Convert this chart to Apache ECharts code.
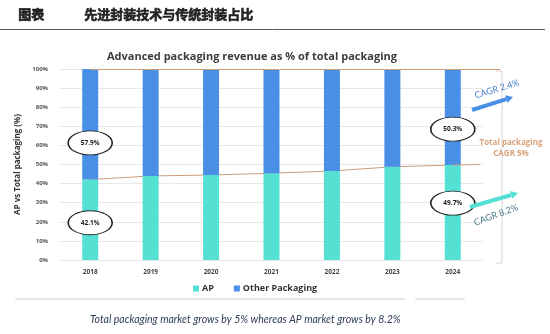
<!DOCTYPE html>
<html>
<head>
<meta charset="utf-8">
<script src="https://cdn.jsdelivr.net/npm/echarts@6/dist/echarts.min.js"></script>
<style>
  html, body { margin: 0; padding: 0; background: #fff; }
  #chart { width: 550px; height: 334px; }
</style>
</head>
<body>
<div id="chart"></div>
<script>
// Years on the x axis
const years = ['2018', '2019', '2020', '2021', '2022', '2023', '2024'];
// Advanced packaging share of total packaging (%)
const apShare = [42.1, 44.0, 44.5, 45.4, 46.6, 48.8, 49.7];
// Remaining (other) packaging share (%)
const otherShare = [57.9, 56.0, 55.5, 54.6, 53.4, 51.2, 50.3];
// Y axis tick values
const yTicks = [0, 10, 20, 30, 40, 50, 60, 70, 80, 90, 100];

const AP_COLOR = '#55e0d4';
const OTHER_COLOR = '#4a8fe6';
const TAN = '#cf9d78';
const FONT = 'Lato';
const BOLD_FONT = 'Open Sans';

function ellipseLabel(year, yPos, text) {
  return {
    coord: [year, yPos],
    value: text,
    symbol: 'circle',
    symbolSize: [44, 24],
    itemStyle: { color: '#fff', borderColor: '#222', borderWidth: 1.2 },
    label: { show: true, formatter: text, color: '#222', fontSize: 6.5, fontWeight: 'bold', fontFamily: BOLD_FONT }
  };
}

const chart = echarts.init(document.getElementById('chart'));

// Thick arrow made of a stroke and a triangular head
function arrow(x1, y1, x2, y2, color) {
  const ang = Math.atan2(y2 - y1, x2 - x1);
  const hl = 7, hw = 4;
  const bx = x2 - hl * Math.cos(ang), by = y2 - hl * Math.sin(ang);
  const px = -Math.sin(ang), py = Math.cos(ang);
  return [
    { type: 'line', shape: { x1: x1, y1: y1, x2: bx, y2: by }, style: { stroke: color, lineWidth: 4 }, z: 10 },
    { type: 'polygon', shape: { points: [[x2, y2], [bx + px * hw, by + py * hw], [bx - px * hw, by - py * hw]] }, style: { fill: color }, z: 10 }
  ];
}

chart.setOption({
  animation: false,
  textStyle: { fontFamily: FONT },
  title: {
    text: 'Advanced packaging revenue as % of total packaging',
    left: 102,
    top: 46,
    textStyle: { fontSize: 11, fontWeight: 'bold', color: '#3c3c3c', fontFamily: BOLD_FONT }
  },
  legend: {
    data: ['AP', 'Other Packaging'],
    left: 188,
    top: 279,
    itemWidth: 6,
    itemHeight: 6,
    itemGap: 20,
    icon: 'rect',
    textStyle: { fontSize: 9, fontWeight: 'bold', color: '#333', fontFamily: BOLD_FONT, padding: [0, 0, 0, -2] }
  },
  grid: { left: 60, right: 67, top: 69, bottom: 74 },
  xAxis: {
    type: 'category',
    data: years,
    axisLine: { show: false },
    axisTick: { show: false },
    axisLabel: { fontSize: 6.5, fontWeight: 'bold', color: '#444', fontFamily: BOLD_FONT, margin: 9 }
  },
  yAxis: {
    type: 'value',
    min: 0,
    max: 100,
    interval: 10,
    name: 'AP vs Total packaging (%)',
    nameLocation: 'middle',
    nameGap: 32,
    nameTextStyle: { fontSize: 8, fontWeight: 'bold', color: '#333', fontFamily: BOLD_FONT },
    axisLabel: {
      fontSize: 6, fontWeight: 'bold', color: '#555', fontFamily: BOLD_FONT, margin: 12,
      formatter: v => (yTicks.indexOf(v) >= 0 ? v + '%' : '')
    },
    splitLine: { lineStyle: { color: '#e8e8e8', width: 1 } },
    axisLine: { show: false },
    axisTick: { show: false }
  },
  series: [
    {
      name: 'Total packaging',
      type: 'line',
      data: apShare,
      symbol: 'none',
      lineStyle: { color: TAN, width: 1 },
      z: 1,
      markLine: {
        silent: true,
        symbol: 'none',
        label: { show: false },
        lineStyle: { color: TAN, width: 1, type: 'solid' },
        data: [[{ coord: ['2018', 100] }, { x: 500, yAxis: 100 }],
               [{ coord: ['2024', 49.7] }, { x: 480, yAxis: 50 }]]
      }
    },
    {
      name: 'AP',
      type: 'bar',
      stack: 'total',
      data: apShare,
      barWidth: 16,
      itemStyle: { color: AP_COLOR },
      z: 3,
      markPoint: {
        data: [ellipseLabel('2018', 19.5, apShare[0] + '%'), ellipseLabel('2024', 29.8, apShare[6] + '%')]
      }
    },
    {
      name: 'Other Packaging',
      type: 'bar',
      stack: 'total',
      data: otherShare,
      barWidth: 16,
      itemStyle: { color: OTHER_COLOR },
      z: 3,
      markPoint: {
        data: [ellipseLabel('2018', 61.3, otherShare[0] + '%'), ellipseLabel('2024', 68.5, otherShare[6] + '%')]
      }
    }
  ],
  graphic: [
    { type: 'text', left: 18, top: 7, style: { text: '图表', fontSize: 13, fontWeight: 'bold', fill: '#222', stroke: '#222', lineWidth: 0.6, fontFamily: 'Noto Sans CJK SC' } },
    { type: 'text', left: 84, top: 7, style: { text: '先进封装技术与传统封装占比', fontSize: 13, fontWeight: 'bold', fill: '#222', stroke: '#222', lineWidth: 0.6, fontFamily: 'Noto Sans CJK SC' } },
    { type: 'line', shape: { x1: 0, y1: 29.5, x2: 545, y2: 29.5 }, style: { stroke: '#555', lineWidth: 1 } },
    { type: 'polyline', shape: { points: [[496, 71], [502, 71], [502, 263], [496, 263]] }, style: { stroke: '#d6d6d6', lineWidth: 1, fill: null } },
    { type: 'line', shape: { x1: 15, y1: 299, x2: 405, y2: 299 }, style: { stroke: '#cfcfcf', lineWidth: 1 } },
    { type: 'line', shape: { x1: 415, y1: 299, x2: 465, y2: 299 }, style: { stroke: '#cfcfcf', lineWidth: 1 } },
    ...arrow(472, 110, 513, 97, OTHER_COLOR),
    ...arrow(470, 207, 518, 193, AP_COLOR),
    { type: 'text', x: 497, y: 89, rotation: 17 * Math.PI / 180,
      style: { text: 'CAGR 2.4%', fontSize: 9, fill: '#4a7fc8', align: 'center', verticalAlign: 'middle', fontFamily: FONT }, z: 10 },
    { type: 'text', x: 496, y: 215, rotation: 20 * Math.PI / 180,
      style: { text: 'CAGR 8.2%', fontSize: 9, fill: '#4a7a8a', align: 'center', verticalAlign: 'middle', fontFamily: FONT }, z: 10 },
    { type: 'text', x: 511, y: 148,
      style: { text: 'Total packaging\nCAGR 5%', fontSize: 8, fontWeight: 'bold', fill: '#d9a27a', align: 'center', verticalAlign: 'middle', lineHeight: 11, fontFamily: BOLD_FONT }, z: 10 },
    { type: 'text', left: 90, top: 314,
      style: { text: 'Total packaging market grows by 5% whereas AP market grows by 8.2%', fontSize: 10.5, fontStyle: 'italic', fill: '#2f3e55', fontFamily: FONT } }
  ]
});
</script>
</body>
</html>
